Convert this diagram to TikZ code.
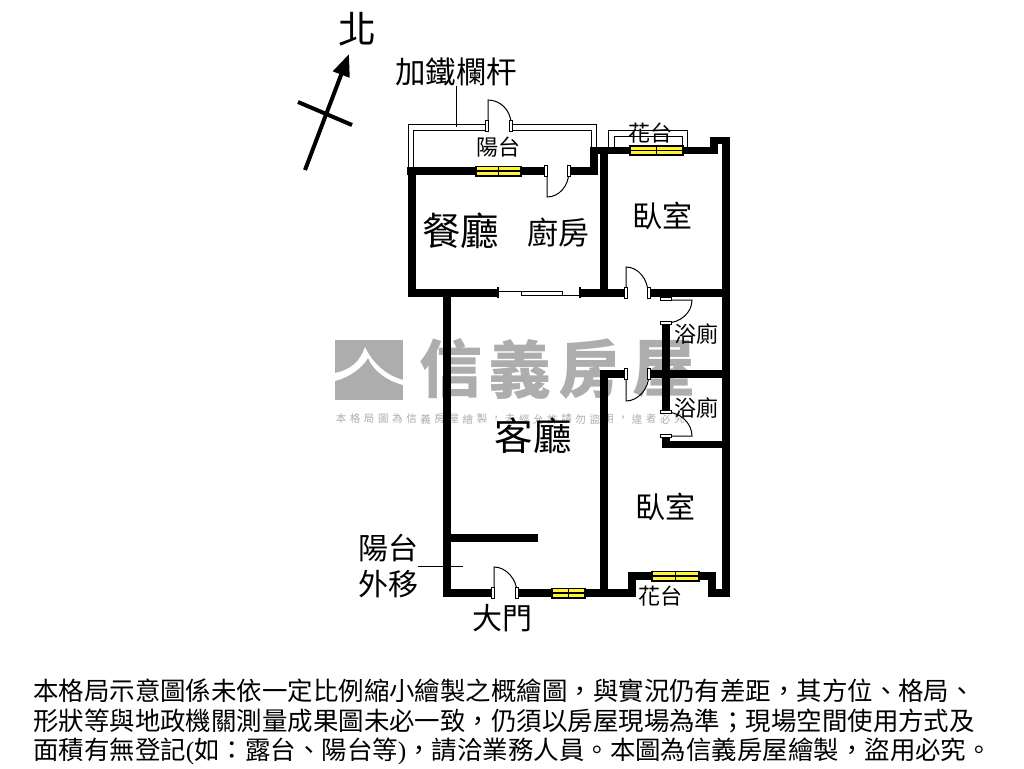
\documentclass[tikz,border=0pt]{standalone}
\usepackage{fontspec}
\setmainfont{Noto Sans CJK TC}
\newfontfamily\latinserif{Liberation Serif}
\usetikzlibrary{arrows.meta}
\newcommand{\fsz}[1]{\fontsize{#1}{#1}\selectfont}
\definecolor{wmgray}{HTML}{ADADAD}
\definecolor{winyellow}{HTML}{FFF533}
\tikzset{
  wall/.style={line width=7.5pt,line cap=butt,line join=miter,black},
  thinline/.style={line width=1pt,black},
  jamb/.style={line width=1pt,draw=black,fill=white},
  label/.style={inner sep=0pt,text=black},
  wmark/.style={inner sep=0pt,text=wmgray,font=\fsz{63}\bfseries},
  note/.style={inner sep=0pt,anchor=west,font=\fsz{25.45}},
}
% window: #1 left, #2 right, #3 centre y
\newcommand{\windowat}[3]{
  \fill[black] (#1,#3-5.5) rectangle (#2,#3+5.5);
  \fill[winyellow] (#1+2,#3-3.8) rectangle (#2-2,#3-0.7);
  \fill[winyellow] (#1+2,#3+0.7) rectangle (#2-2,#3+3.8);
  \draw[line width=1pt] ({(#1+#2)/2},#3-5) -- ({(#1+#2)/2},#3+5);
}
\newcommand{\jambv}[2]{\draw[jamb] (#1-1.5,#2-5.5) rectangle (#1+1.5,#2+5.5);}
\newcommand{\jambh}[2]{\draw[jamb] (#1-5.5,#2-1.5) rectangle (#1+5.5,#2+1.5);}
\begin{document}
\begin{tikzpicture}[x=1pt,y=-1pt]
\useasboundingbox (0,0) rectangle (1024,768);
\fill[white] (0,0) rectangle (1024,768);
% watermark
\fill[wmgray] (335,340) rectangle (403,400);
\fill[white] (365,347) .. controls (360,362) and (350,370) .. (335,373) -- (335,381)
  .. controls (350,377) and (362,368) .. (368,358)
  .. controls (374,372) and (388,381) .. (403,385) -- (403,380)
  .. controls (385,375) and (372,362) .. (365,347) -- cycle;
\node[wmark] (wm1) at (451,369) {信};
\node[wmark] (wm2) at (520,369) {義};
\node[wmark] (wm3) at (590,369) {房};
\node[wmark] (wm4) at (664,369) {屋};
\foreach \c [count=\i from 0] in {本,格,局,圖,為,信,義,房,屋,繪,製,，,未,經,允,許,請,勿,盜,用,，,違,者,必,究}{
  \node[inner sep=0pt,text=wmgray,font=\fsz{10.5}] (wmt\i) at ({341+14.1*\i},419) {\c};
}
% balcony outline
\draw[thinline] (408,170) -- (408,124) -- (487,124);
\draw[thinline] (511,124) -- (596,124) -- (596,150);
\draw[thinline] (413,170) -- (413,130) -- (487,130);
\draw[thinline] (511,130) -- (591,130) -- (591,150);
% flower box upper
\draw[thinline] (608,147) -- (608,130) -- (687,130) -- (687,147);
\draw[thinline] (614,147) -- (614,136) -- (682,136) -- (682,147);
% walls
\draw[wall] (407,171) -- (546,171);
\draw[wall] (569,171) -- (594,171) -- (594,150);
\draw[wall] (590,150.5) -- (714,150.5) -- (714,140.5) -- (726,140.5) -- (726,596.5);
\draw[wall] (412,168) -- (412,293);
\draw[wall] (408,293) -- (498,293);
\draw[wall] (580,293) -- (626,293);
\draw[wall] (649,293) -- (729,293);
\draw[wall] (604,147) -- (604,293);
\draw[wall] (447,290) -- (447,596.5);
\draw[wall] (444,593) -- (492,593);
\draw[wall] (517,593) -- (632,593);
\draw[wall] (632,596.5) -- (632,576) -- (712,576) -- (712,596.5);
\draw[wall] (709,593) -- (729,593);
\draw[wall] (604,596.5) -- (604,374) -- (626,374);
\draw[wall] (649,374) -- (729,374);
\draw[wall] (666,323) -- (666,412);
\draw[wall] (666,436) -- (666,444.5) -- (729,444.5);
\draw[wall] (447,538) -- (538,538);
% windows
\windowat{475}{522}{171}
\windowat{629}{684}{150.5}
\windowat{551}{586}{593}
\windowat{651}{700}{576}
% sliding door
\draw[line width=1.5pt] (498,287) -- (498,298);
\draw[line width=1.5pt] (580,287) -- (580,298);
\draw[thinline] (498,291) -- (521,291);
\draw[thinline] (562,295) -- (580,295);
\draw[thinline] (521,291) rectangle (562,295);
% doors
\draw[thinline] (488,124) -- (488,100) .. controls (500,100) and (511,110) .. (511,124);
\jambv{487}{126}\jambv{511}{126}
\draw[thinline] (547,171) -- (547,197) .. controls (559,197) and (569,186) .. (569,171);
\jambv{546}{171}\jambv{569}{171}
\draw[thinline] (626,293) -- (626,267) .. controls (638,267) and (648,279) .. (648,293);
\jambv{626}{293}\jambv{649}{293}
\draw[thinline] (626,374) -- (626,401) .. controls (638,401) and (649,389) .. (649,374);
\jambv{626}{374}\jambv{649}{374}
\draw[thinline] (494,593) -- (494,567) .. controls (506,567) and (517,579) .. (517,593);
\jambv{493}{593}\jambv{517}{593}
% bath doors
\draw[thinline] (666,300) -- (692,300) .. controls (692,313) and (680,323) .. (666,323);
\jambh{666}{299}\jambh{666}{323}
\draw[thinline] (666,436) -- (692,436) .. controls (692,423) and (680,412) .. (666,412);
\jambh{666}{412}\jambh{666}{436}
% north
\coordinate (arrowtail) at (305,170);
\coordinate (arrowtip) at (349,54);
\coordinate (crossa) at (298,102);
\coordinate (crossb) at (352,125);
\draw[line width=4pt,-{Triangle[length=22pt,width=17pt]}] (arrowtail) -- (arrowtip);
\draw[line width=4pt] (crossa) -- (crossb);
\node[label,font=\fsz{38}] (north) at (357,29) {北};
% labels
\node[label,font=\fsz{30.5}] (rail) at (456,72) {加鐵欄杆};
\coordinate (railend) at (456,127);
\draw[thinline] (rail.south) -- (railend);
\node[label,font=\fsz{22}] (balc) at (498,147) {陽台};
\node[label,font=\fsz{22}] (flower1) at (650,133) {花台};
\node[label,font=\fsz{38.5}] (dining) at (460.5,231) {餐廳};
\node[label,font=\fsz{31}] (kitchen) at (558,233) {廚房};
\node[label,font=\fsz{30}] (bed1) at (662,216) {臥室};
\node[label,font=\fsz{38.5}] (living) at (533,436) {客廳};
\node[label,font=\fsz{22}] (bath1) at (696,334) {浴廁};
\node[label,font=\fsz{22}] (bath2) at (696,408) {浴廁};
\node[label,font=\fsz{30}] (bed2) at (665,507) {臥室};
\node[label,font=\fsz{30}] (balc2a) at (388,548) {陽台};
\node[label,font=\fsz{30}] (balc2b) at (388,584) {外移};
\coordinate (movea) at (418,566);
\coordinate (moveb) at (463,566);
\draw[thinline] (movea) -- (moveb);
\node[label,font=\fsz{30}] (entry) at (502,618) {大門};
\node[label,font=\fsz{22}] (flower2) at (660,596) {花台};
% note
\node[note] (n1) at (33,691) {本格局示意圖係未依一定比例縮小繪製之概繪圖，與實況仍有差距，其方位、格局、};
\node[note] (n2) at (33,721) {形狀等與地政機關測量成果圖未必一致，仍須以房屋現場為準；現場空間使用方式及};
\node[note] (n3) at (33,751) {面積有無登記{\latinserif(}如：露台、陽台等{\latinserif)}，請洽業務人員。本圖為信義房屋繪製，盜用必究。};
\end{tikzpicture}
\end{document}
